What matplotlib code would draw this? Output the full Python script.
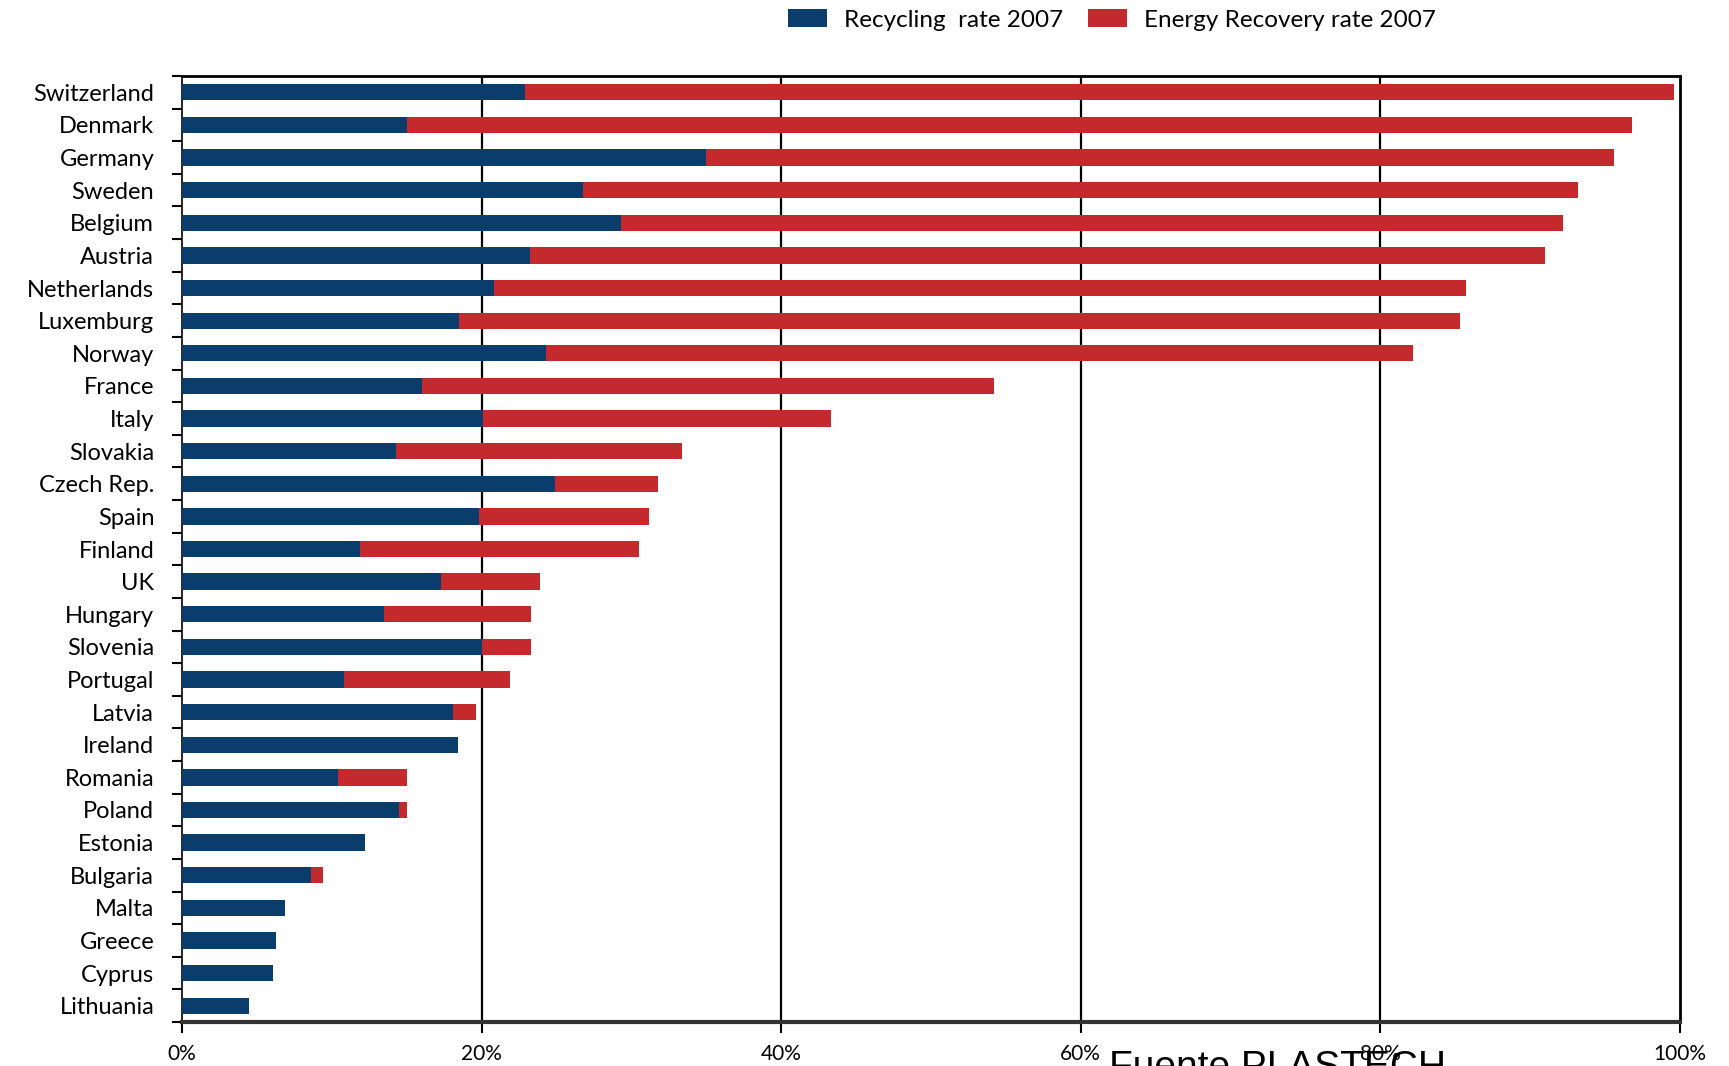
import matplotlib
matplotlib.use("Agg")
import matplotlib.pyplot as plt
import numpy as np
from matplotlib.patches import Patch

countries = ["Switzerland", "Denmark", "Germany", "Sweden", "Belgium", "Austria",
             "Netherlands", "Luxemburg", "Norway", "France", "Italy", "Slovakia",
             "Czech Rep.", "Spain", "Finland", "UK", "Hungary", "Slovenia",
             "Portugal", "Latvia", "Ireland", "Romania", "Poland", "Estonia",
             "Bulgaria", "Malta", "Greece", "Cyprus", "Lithuania"]
recycling = [22.9, 15.0, 35.0, 26.8, 29.3, 23.2, 20.8, 18.5, 24.3, 16.0, 20.1, 14.3,
             24.9, 19.8, 11.9, 17.3, 13.5, 20.0, 10.8, 18.1, 18.4, 10.4, 14.5, 12.2,
             8.6, 6.9, 6.3, 6.1, 4.5]
total_recovery = [99.6, 96.8, 95.6, 93.2, 92.2, 91.0, 85.7, 85.3, 82.2, 54.2, 43.3, 33.4,
                  31.8, 31.2, 30.5, 23.9, 23.3, 23.3, 21.9, 19.6, 18.4, 15.0, 15.0, 12.2,
                  9.4, 6.9, 6.3, 6.1, 4.5]
energy = [t - r for t, r in zip(total_recovery, recycling)]
xticks = [0, 20, 40, 60, 80, 100]
xticklabels = ["0%", "20%", "40%", "60%", "80%", "100%"]
legend_labels = ["Recycling  rate 2007", "Energy Recovery rate 2007"]

BLUE = "#0b3d6c"
RED = "#c4292e"

plt.rcParams['font.family'] = ['Lato', 'DejaVu Sans']

fig = plt.figure(figsize=(17.29, 10.66), dpi=100)
ax = fig.add_axes([182/1729, 1-1022/1066, (1680-182)/1729, (1022-76)/1066])

y = np.arange(len(countries))
ax.barh(y, recycling, height=0.5, color=BLUE, zorder=3)
ax.barh(y, energy, left=recycling, height=0.5, color=RED, zorder=3)

ax.set_xlim(0, 100)
ax.set_ylim(len(countries) - 0.5, -0.5)

ax.set_yticks(y)
ax.set_yticklabels(countries, fontsize=17)
ax.tick_params(axis='y', which='major', length=0, pad=20)
ax.set_yticks(np.arange(len(countries) + 1) - 0.5, minor=True)
ax.tick_params(axis='y', which='minor', length=7, width=1.5, direction='out', color='black')

ax.set_xticks(xticks)
ax.set_xticklabels(xticklabels, fontsize=15)
ax.tick_params(axis='x', length=8, width=1.5, direction='out', pad=8)

for xv in xticks[1:-1]:
    ax.axvline(xv, color='black', lw=1.6, zorder=2)

for side in ['top', 'right']:
    ax.spines[side].set_linewidth(2.0)
ax.spines['bottom'].set_linewidth(3.0)
ax.spines['bottom'].set_color('#333333')
ax.spines['left'].set_linewidth(1.2)

handles = [Patch(facecolor=BLUE), Patch(facecolor=RED)]
fig.legend(handles, legend_labels, loc='center', bbox_to_anchor=(1112/1729, 1-20/1066),
           ncol=2, frameon=False, fontsize=17.5, handlelength=1.6, handleheight=0.7,
           columnspacing=1.0, handletextpad=0.7)

fig.text(1109/1729, 1-1078/1066, "Fuente PLASTECH", fontsize=28,
         family=['Liberation Sans', 'DejaVu Sans'], ha='left', va='baseline')

fig.savefig("out.png", dpi=100, facecolor='white')
